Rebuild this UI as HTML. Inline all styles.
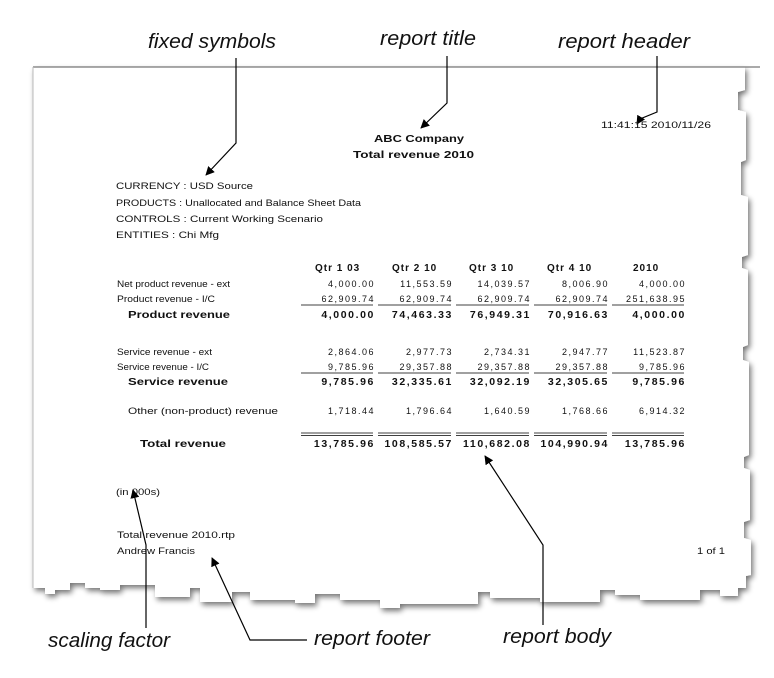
<!DOCTYPE html>
<html><head><meta charset="utf-8"><style>
html,body{margin:0;padding:0;background:#fff;}
svg{display:block;}
text{font-family:"Liberation Sans",Arial,sans-serif;fill:#111;}
.s{font-size:9px;}
.b{font-size:10px;font-weight:bold;}
.n{font-size:9px;letter-spacing:1.5px;}
.nb{font-size:10.5px;font-weight:bold;letter-spacing:1.6px;}
.lab{font-size:20px;font-style:italic;}
</style></head><body>
<svg width="774" height="678" viewBox="0 0 774 678" xmlns="http://www.w3.org/2000/svg">
<defs>
<filter id="sh" x="-5%" y="-5%" width="115%" height="115%">
<feGaussianBlur in="SourceAlpha" stdDeviation="3"/>
<feOffset dx="2" dy="3"/>
<feComponentTransfer><feFuncA type="linear" slope="0.55"/></feComponentTransfer>
<feMerge><feMergeNode/><feMergeNode in="SourceGraphic"/></feMerge>
</filter>
<marker id="ar" viewBox="0 0 10 10" refX="9" refY="5" markerWidth="9" markerHeight="9" orient="auto-start-reverse" markerUnits="userSpaceOnUse">
<path d="M0,0 L10,5 L0,10 z" fill="#000"/></marker>
</defs>
<path filter="url(#sh)" fill="#fff" d="M33,67 L745,67 L745,90 L738,92 L738,110 L746,112 L746,160 L741,162 L741,195 L748,197 L748,255 L742,257 L742,268 L748,270 L748,345 L743,347 L743,360 L749,362 L749,455 L744,457 L744,468 L750,470 L750,520 L744,522 L744,538 L751,540 L751,575 L746,576 L746,588
L738,588 L738,596 L720,596 L720,590 L700,590 L700,600 L640,600 L640,595 L615,595 L615,590 L600,590 L600,602 L540,602 L540,598 L490,598 L490,592 L478,592 L478,604 L400,604 L400,608 L380,608 L380,600 L340,600 L340,594 L315,594 L315,603 L295,603 L295,600 L250,600 L250,592 L232,592 L232,602 L200,602 L200,588 L190,588 L190,597 L155,597 L155,585 L120,585 L120,590 L100,590 L100,588 L85,588 L85,583 L70,583 L70,590 L55,590 L55,594 L45,594 L45,588 L33,588 Z"/>
<line x1="33" y1="67" x2="760" y2="67" stroke="#555" stroke-width="1"/>
<line x1="33" y1="67" x2="33" y2="588" stroke="#bbb" stroke-width="1"/>

<text class="lab" x="148" y="48" textLength="128" lengthAdjust="spacingAndGlyphs">fixed symbols</text>
<text class="lab" x="380" y="45" textLength="96" lengthAdjust="spacingAndGlyphs">report title</text>
<text class="lab" x="558" y="48" textLength="132" lengthAdjust="spacingAndGlyphs">report header</text>
<polyline points="236,58 236,143 206,175" fill="none" stroke="#000" stroke-width="1.2" marker-end="url(#ar)"/>
<polyline points="447,56 447,103 421,128" fill="none" stroke="#000" stroke-width="1.2" marker-end="url(#ar)"/>
<polyline points="657,56 657,112 640,119 637,124" fill="none" stroke="#000" stroke-width="1.2" marker-end="url(#ar)"/>

<text class="s" x="601" y="128" textLength="110" lengthAdjust="spacingAndGlyphs">11:41:15 2010/11/26</text>
<text class="b" x="374" y="142" font-size="12" textLength="90" lengthAdjust="spacingAndGlyphs">ABC Company</text>
<text class="b" x="353" y="158" font-size="12" textLength="121" lengthAdjust="spacingAndGlyphs">Total revenue 2010</text>

<text class="s" x="116" y="189" textLength="137" lengthAdjust="spacingAndGlyphs">CURRENCY : USD Source</text>
<text class="s" x="116" y="206" textLength="245" lengthAdjust="spacingAndGlyphs">PRODUCTS : Unallocated and Balance Sheet Data</text>
<text class="s" x="116" y="222" textLength="207" lengthAdjust="spacingAndGlyphs">CONTROLS : Current Working Scenario</text>
<text class="s" x="116" y="238" textLength="103" lengthAdjust="spacingAndGlyphs">ENTITIES : Chi Mfg</text>

<g class="b" style="letter-spacing:1px">
<text x="315" y="271">Qtr 1 03</text><text x="392" y="271">Qtr 2 10</text><text x="469" y="271">Qtr 3 10</text><text x="547" y="271">Qtr 4 10</text><text x="633" y="271">2010</text>
</g>
<text class="s" x="117" y="287" textLength="113" lengthAdjust="spacingAndGlyphs">Net product revenue - ext</text>
<text class="s" x="117" y="302" textLength="98" lengthAdjust="spacingAndGlyphs">Product revenue - I/C</text>
<text class="s" x="117" y="355" textLength="95" lengthAdjust="spacingAndGlyphs">Service revenue - ext</text>
<text class="s" x="117" y="370" textLength="92" lengthAdjust="spacingAndGlyphs">Service revenue - I/C</text>
<text class="s" x="128" y="414" textLength="150" lengthAdjust="spacingAndGlyphs">Other (non-product) revenue</text>
<text class="b" x="128" y="318" font-size="11" textLength="102" lengthAdjust="spacingAndGlyphs">Product revenue</text>
<text class="b" x="128" y="385" font-size="11" textLength="100" lengthAdjust="spacingAndGlyphs">Service revenue</text>
<text class="b" x="140" y="447" font-size="11" textLength="86" lengthAdjust="spacingAndGlyphs">Total revenue</text>
<g class="n" text-anchor="end">
<text x="375" y="287">4,000.00</text><text x="453" y="287">11,553.59</text><text x="531" y="287">14,039.57</text><text x="609" y="287">8,006.90</text><text x="686" y="287">4,000.00</text>
<text x="375" y="302">62,909.74</text><text x="453" y="302">62,909.74</text><text x="531" y="302">62,909.74</text><text x="609" y="302">62,909.74</text><text x="686" y="302">251,638.95</text>
<text x="375" y="355">2,864.06</text><text x="453" y="355">2,977.73</text><text x="531" y="355">2,734.31</text><text x="609" y="355">2,947.77</text><text x="686" y="355">11,523.87</text>
<text x="375" y="370">9,785.96</text><text x="453" y="370">29,357.88</text><text x="531" y="370">29,357.88</text><text x="609" y="370">29,357.88</text><text x="686" y="370">9,785.96</text>
<text x="375" y="414">1,718.44</text><text x="453" y="414">1,796.64</text><text x="531" y="414">1,640.59</text><text x="609" y="414">1,768.66</text><text x="686" y="414">6,914.32</text>
</g>
<g class="nb" text-anchor="end">
<text x="375" y="318">4,000.00</text><text x="453" y="318">74,463.33</text><text x="531" y="318">76,949.31</text><text x="609" y="318">70,916.63</text><text x="686" y="318">4,000.00</text>
<text x="375" y="385">9,785.96</text><text x="453" y="385">32,335.61</text><text x="531" y="385">32,092.19</text><text x="609" y="385">32,305.65</text><text x="686" y="385">9,785.96</text>
<text x="375" y="447">13,785.96</text><text x="453" y="447">108,585.57</text><text x="531" y="447">110,682.08</text><text x="609" y="447">104,990.94</text><text x="686" y="447">13,785.96</text>
</g>
<g stroke="#000" stroke-width="0.8">
<line x1="301" y1="305" x2="373" y2="305"/><line x1="378" y1="305" x2="451" y2="305"/><line x1="456" y1="305" x2="529" y2="305"/><line x1="534" y1="305" x2="607" y2="305"/><line x1="612" y1="305" x2="684" y2="305"/>
<line x1="301" y1="373" x2="373" y2="373"/><line x1="378" y1="373" x2="451" y2="373"/><line x1="456" y1="373" x2="529" y2="373"/><line x1="534" y1="373" x2="607" y2="373"/><line x1="612" y1="373" x2="684" y2="373"/>
<line x1="301" y1="433" x2="373" y2="433"/><line x1="378" y1="433" x2="451" y2="433"/><line x1="456" y1="433" x2="529" y2="433"/><line x1="534" y1="433" x2="607" y2="433"/><line x1="612" y1="433" x2="684" y2="433"/>
<line x1="301" y1="435.5" x2="373" y2="435.5"/><line x1="378" y1="435.5" x2="451" y2="435.5"/><line x1="456" y1="435.5" x2="529" y2="435.5"/><line x1="534" y1="435.5" x2="607" y2="435.5"/><line x1="612" y1="435.5" x2="684" y2="435.5"/>
</g>

<text class="s" x="116" y="495" textLength="44" lengthAdjust="spacingAndGlyphs">(in 000s)</text>
<text class="s" x="117" y="538" textLength="118" lengthAdjust="spacingAndGlyphs">Total revenue 2010.rtp</text>
<text class="s" x="117" y="554" textLength="78" lengthAdjust="spacingAndGlyphs">Andrew Francis</text>
<text class="s" x="697" y="554" textLength="28" lengthAdjust="spacingAndGlyphs">1 of 1</text>

<polyline points="146,628 146,545 133,490" fill="none" stroke="#000" stroke-width="1.2" marker-end="url(#ar)"/>
<polyline points="307,640 250,640 212,558" fill="none" stroke="#000" stroke-width="1.2" marker-end="url(#ar)"/>
<polyline points="543,625 543,545 485,456" fill="none" stroke="#000" stroke-width="1.2" marker-end="url(#ar)"/>
<text class="lab" x="48" y="647" textLength="122" lengthAdjust="spacingAndGlyphs">scaling factor</text>
<text class="lab" x="314" y="645" textLength="116" lengthAdjust="spacingAndGlyphs">report footer</text>
<text class="lab" x="503" y="643" textLength="108" lengthAdjust="spacingAndGlyphs">report body</text>
</svg>
</body></html>
